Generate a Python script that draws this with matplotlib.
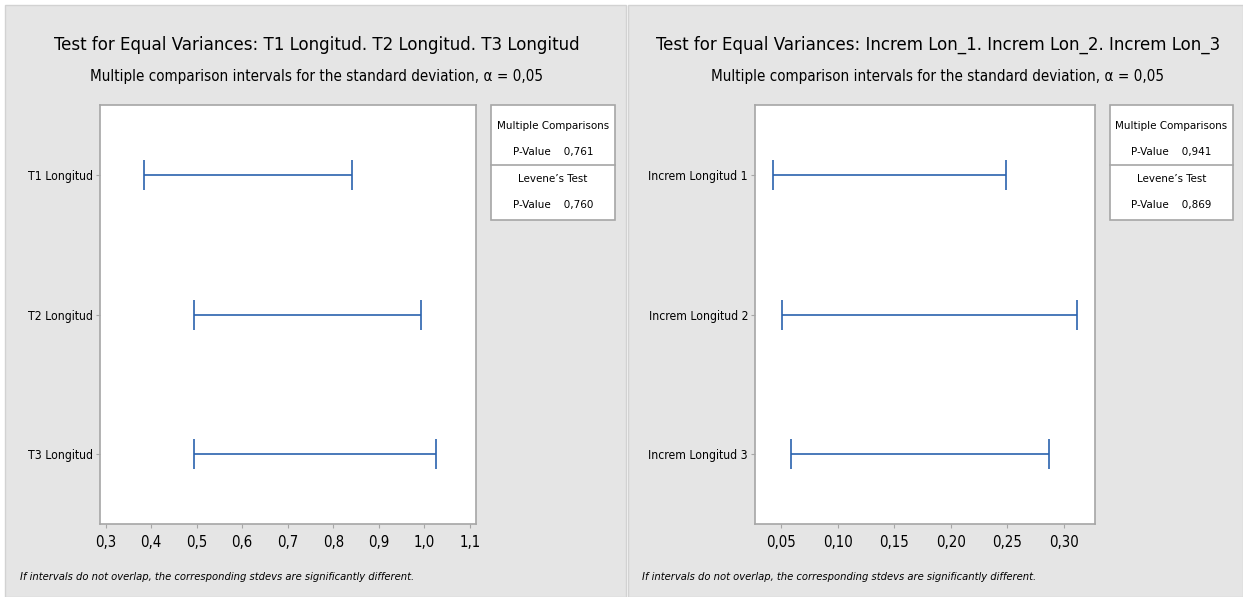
import matplotlib
matplotlib.use("Agg")
import matplotlib.pyplot as plt
from matplotlib.patches import Rectangle
from matplotlib.lines import Line2D
from matplotlib import font_manager

# ---------------- data ----------------
left_title = "Test for Equal Variances: T1 Longitud. T2 Longitud. T3 Longitud"
right_title = "Test for Equal Variances: Increm Lon_1. Increm Lon_2. Increm Lon_3"
subtitle = "Multiple comparison intervals for the standard deviation, \u03b1 = 0,05"
footnote = "If intervals do not overlap, the corresponding stdevs are significantly different."

left_categories = ["T1 Longitud", "T2 Longitud", "T3 Longitud"]
left_lower = [0.384, 0.493, 0.495]
left_upper = [0.841, 0.993, 1.026]
left_ticks = [0.3, 0.4, 0.5, 0.6, 0.7, 0.8, 0.9, 1.0, 1.1]
left_ticklabels = ["0,3", "0,4", "0,5", "0,6", "0,7", "0,8", "0,9", "1,0", "1,1"]
left_mc_p = "0,761"
left_lev_p = "0,760"

right_categories = ["Increm Longitud 1", "Increm Longitud 2", "Increm Longitud 3"]
right_lower = [0.0433, 0.0506, 0.0591]
right_upper = [0.2488, 0.3116, 0.2870]
right_ticks = [0.05, 0.10, 0.15, 0.20, 0.25, 0.30]
right_ticklabels = ["0,05", "0,10", "0,15", "0,20", "0,25", "0,30"]
right_mc_p = "0,941"
right_lev_p = "0,869"

# ---------------- style ----------------
W, H = 1243, 597
cond = [f for f in font_manager.fontManager.ttflist
        if f.stretch in ("condensed", "semi-condensed", "extra-condensed")
        or "Narrow" in f.name or "Condensed" in f.name]
if cond:
    FAM = [cond[0].name, "DejaVu Sans"]
    STRETCH = cond[0].stretch
else:
    FAM = ["Roboto", "DejaVu Sans"]
    STRETCH = "normal"
plt.rcParams["font.family"] = FAM
plt.rcParams["font.stretch"] = STRETCH

BG = "#e5e5e5"
BLUE = "#2a62ae"
SPINE = "#a6a6a6"

fig = plt.figure(figsize=(W / 100, H / 100), dpi=100)
fig.patch.set_facecolor("white")
renderer = fig.canvas.get_renderer()


def fx(x):
    return x / W


def fy(y):
    return 1 - y / H


def fit_size(s, target_px, base=12, **kw):
    t = fig.text(0, 0, s, fontsize=base, **kw)
    w = t.get_window_extent(renderer=renderer).width
    t.remove()
    return base * target_px / w


# panel backgrounds
fig.patches.append(Rectangle((fx(5), 0), fx(621), fy(5), transform=fig.transFigure,
                             facecolor=BG, edgecolor="#d2d2d2", lw=1, zorder=-10))
fig.patches.append(Rectangle((fx(628), 0), fx(W - 628), fy(5), transform=fig.transFigure,
                             facecolor=BG, edgecolor="#d2d2d2", lw=1, zorder=-10))

TITLE_FS = 1.02 * min(fit_size(left_title, 521), fit_size(right_title, 552))
SUB_FS = 1.01 * fit_size(subtitle, 447)
LEG_FS = 1.02 * fit_size("Multiple Comparisons", 109)
FOOT_FS = 1.0 * fit_size(footnote, 394, style="italic")
BASE_TICK = min(fit_size("T1 Longitud", 61), fit_size("Increm Longitud 1", 96))
YTICK_FS = 1.06 * BASE_TICK
XTICK_FS = 1.3 * BASE_TICK


def panel(ax_box, cats, lo, hi, ticks, ticklabels, xlim, title, title_x, legend_box, mc_p, lev_p, foot_x):
    x0, x1, y0, y1 = ax_box
    ax = fig.add_axes([fx(x0), fy(y1), fx(x1 - x0), (y1 - y0) / H])
    ax.set_facecolor("white")
    ypos = list(range(1, len(cats) + 1))
    half = [(b - a) / 2 for a, b in zip(lo, hi)]
    mids = [(a + b) / 2 for a, b in zip(lo, hi)]
    ax.errorbar(mids, ypos, xerr=[half, half], fmt="none", ecolor=BLUE,
                elinewidth=1.2, capsize=11, capthick=1.2)
    ax.set_xlim(*xlim)
    ax.set_ylim(3.5, 0.5)
    ax.set_yticks(ypos)
    ax.set_yticklabels(cats, fontsize=YTICK_FS)
    ax.set_xticks(ticks)
    ax.set_xticklabels(ticklabels, fontsize=XTICK_FS)
    for s in ax.spines.values():
        s.set_color(SPINE)
        s.set_linewidth(1.2)
    ax.tick_params(axis="both", colors=SPINE, labelcolor="black", length=3, width=0.8, pad=2)
    ax.tick_params(axis="x", pad=5)

    fig.text(fx(title_x), fy(45), title, ha="center", va="center", fontsize=TITLE_FS)
    fig.text(fx(title_x), fy(77), subtitle, ha="center", va="center", fontsize=SUB_FS)

    lx0, lx1, ly0, ly1, lmid = legend_box
    fig.patches.append(Rectangle((fx(lx0), fy(ly1)), fx(lx1 - lx0), (ly1 - ly0) / H,
                                 transform=fig.transFigure, facecolor="white",
                                 edgecolor="#a6a6a6", lw=1.2))
    fig.lines.append(Line2D([fx(lx0), fx(lx1)], [fy(lmid), fy(lmid)],
                            transform=fig.transFigure, color="#a6a6a6", lw=1.2))
    cx = (lx0 + lx1) / 2
    fig.text(fx(cx), fy(126), "Multiple Comparisons", ha="center", va="center", fontsize=LEG_FS)
    fig.text(fx(cx), fy(152), "P-Value    " + mc_p, ha="center", va="center", fontsize=LEG_FS)
    fig.text(fx(cx), fy(179), "Levene\u2019s Test", ha="center", va="center", fontsize=LEG_FS)
    fig.text(fx(cx), fy(205), "P-Value    " + lev_p, ha="center", va="center", fontsize=LEG_FS)

    fig.text(fx(foot_x), fy(577), footnote, ha="left", va="center", fontsize=FOOT_FS, style="italic")
    return ax


panel((100, 476, 105, 524), left_categories, left_lower, left_upper, left_ticks, left_ticklabels,
      (0.2877, 1.1132), left_title, 317, (491, 615, 105, 220, 165), left_mc_p, left_lev_p, 20)
panel((755, 1095, 105, 524), right_categories, right_lower, right_upper, right_ticks, right_ticklabels,
      (0.027, 0.3276), right_title, 938, (1110, 1233, 105, 220, 165), right_mc_p, right_lev_p, 642)

fig.savefig("out.png", dpi=100, facecolor=fig.get_facecolor())
